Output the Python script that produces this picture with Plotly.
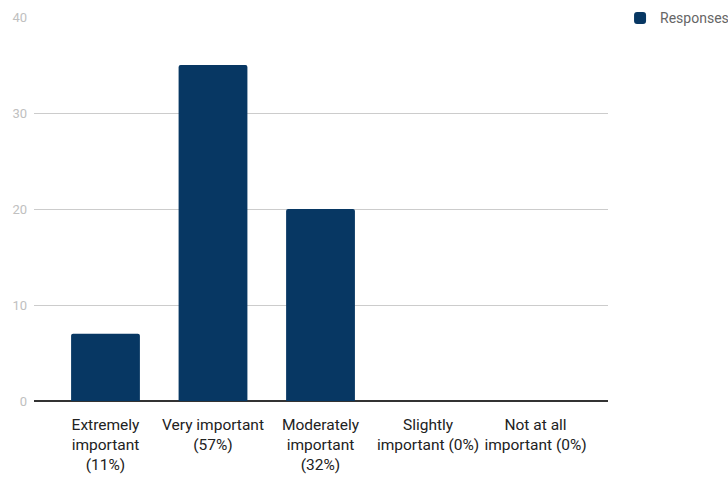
import plotly.graph_objects as go

categories = [
    "Extremely<br>important<br>(11%)",
    "Very important<br>(57%)",
    "Moderately<br>important<br>(32%)",
    "Slightly<br>important (0%)",
    "Not at all<br>important (0%)",
]
responses = [7, 35, 20, 0, 0]
y_ticks = [0, 10, 20, 30, 40]

fig = go.Figure(
    go.Bar(
        x=list(range(len(categories))),
        y=responses,
        name="Responses",
        marker=dict(color="#073763", cornerradius=2, line=dict(width=0)),
        width=0.64,
        showlegend=True,
    )
)

fig.update_layout(
    width=728,
    height=485,
    margin=dict(l=34, r=120, t=17, b=84, autoexpand=False),
    paper_bgcolor="white",
    plot_bgcolor="white",
    font=dict(family="Roboto", size=15.5, color="#222222"),
    xaxis=dict(
        tickmode="array",
        tickvals=list(range(len(categories))),
        ticktext=categories,
        tickangle=0,
        range=[-0.665, 4.674],
        showgrid=False,
        zeroline=False,
        showline=False,
        ticks="",
        tickfont=dict(family="Roboto", size=15.5, color="#222222"),
        ticklabelstandoff=12,
    ),
    yaxis=dict(
        range=[0, 40],
        tickvals=y_ticks,
        showgrid=True,
        gridcolor="#cccccc",
        gridwidth=1,
        zeroline=True,
        zerolinecolor="#333333",
        zerolinewidth=1.5,
        showline=False,
        ticks="",
        tickfont=dict(family="Roboto", size=13, color="#c0c0c0"),
        ticklabelstandoff=6,
    ),
    legend=dict(
        x=1.021,
        xanchor="left",
        y=1.038,
        yanchor="top",
        font=dict(family="Roboto", size=14, color="#666666"),
        bgcolor="rgba(0,0,0,0)",
        itemwidth=30,
    ),
)

fig.write_html("out.html")
